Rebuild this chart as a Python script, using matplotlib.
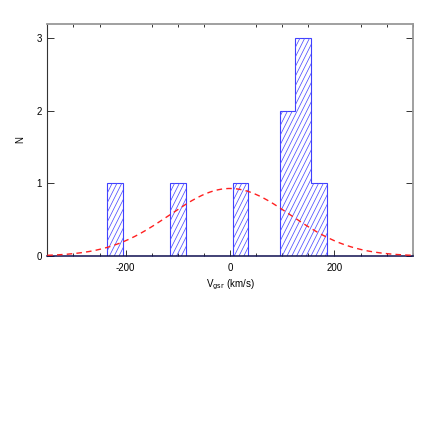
import numpy as np
import matplotlib
matplotlib.use("Agg")
import matplotlib.pyplot as plt
from matplotlib.collections import LineCollection
from matplotlib.ticker import MultipleLocator

# histogram of V_gsr, bins of 30 km/s
bin_edges = [-235, -205, -175, -145, -115, -85, -55, -25, 5, 35, 65, 95, 125, 155, 185]
counts = [1, 0, 0, 0, 1, 0, 0, 0, 1, 0, 0, 2, 3, 1]

# model gaussian drawn over the histogram
gauss_mean = 0.0
gauss_sigma = 116.0
n_total = 9
bin_width = 30.0

plt.rcParams['font.family'] = ['Liberation Sans', 'DejaVu Sans']
plt.rcParams['axes.unicode_minus'] = False

fig = plt.figure(figsize=(4.36, 4.36), dpi=100)
ax = fig.add_axes([0.1085, 0.4128, 0.8381, 0.5322])

hist = ax.stairs(counts, bin_edges, fill=True, facecolor='none', edgecolor='#4040ff',
                 linewidth=0.8, zorder=2)

# steep hatch lines, clipped to the histogram outline
w_px = 0.8381 * 436
h_px = 0.5322 * 436
slope = 2.0 * w_px / h_px
step = 4.8 / w_px
segs = [[(x0, 0), (x0 + 1 / slope, 1)] for x0 in np.arange(-0.5, 1.1, step)]
hatch = LineCollection(segs, colors='#5050ff', linewidths=0.55, transform=ax.transAxes, zorder=2)
ax.add_collection(hatch)
hatch.set_clip_path(hist)

v = np.linspace(-350, 350, 400)
g = n_total * bin_width / (gauss_sigma * np.sqrt(2 * np.pi)) * np.exp(-(v - gauss_mean) ** 2 / (2 * gauss_sigma ** 2))
ax.plot(v, g, color='#ff2020', linestyle=(0, (4, 3)), linewidth=1.0, zorder=3)

ax.set_xlim(-350, 350)
ax.set_ylim(0, 3.19)

ax.xaxis.set_major_locator(MultipleLocator(200))
ax.xaxis.set_minor_locator(MultipleLocator(50))
ax.yaxis.set_major_locator(MultipleLocator(1))

ax.tick_params(axis='both', which='both', direction='in', labelsize=7, colors='#333333')
ax.tick_params(axis='x', which='major', length=4.5, width=0.7, bottom=True, top=False, pad=5)
ax.tick_params(axis='x', which='minor', length=2.2, width=0.7, bottom=True, top=True)
ax.tick_params(axis='y', which='major', length=4.8, width=0.7, left=True, right=True, pad=4)
ax.tick_params(labelcolor='black')

for side in ['top', 'right']:
    ax.spines[side].set_color('#999999')
    ax.spines[side].set_linewidth(1.3)
ax.spines['left'].set_color('#333333')
ax.spines['left'].set_linewidth(0.8)
ax.spines['bottom'].set_color('#101050')
ax.spines['bottom'].set_linewidth(1.1)

ax.set_xlabel(r'V$_{\rm gsr}$ (km/s)', fontsize=7, labelpad=3)
ax.set_ylabel('N', fontsize=7, labelpad=8)

fig.savefig('out.png', dpi=100)
